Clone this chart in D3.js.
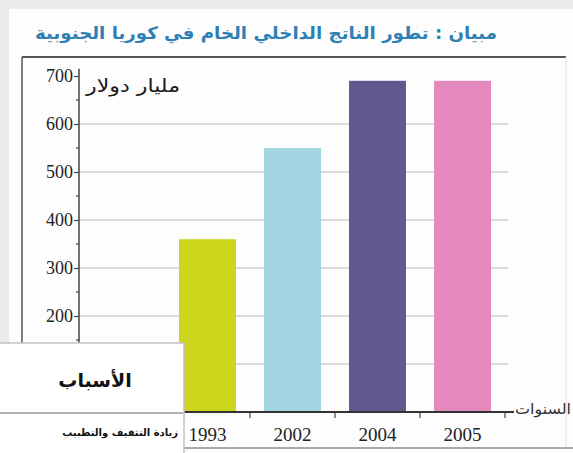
<!DOCTYPE html>
<html>
<head>
<meta charset="utf-8">
<script src="https://cdn.jsdelivr.net/npm/d3@7"></script>
<style>
  html, body { margin: 0; padding: 0; background: #fff; }
  svg { display: block; }
</style>
</head>
<body>
<svg id="chart" width="573" height="453"></svg>
<script>
// GDP of South Korea, billions of dollars
const years = ["1993", "2002", "2004", "2005"];
const gdp = [360, 550, 690, 690];
const barColors = ["#cbd61c", "#a3d6e3", "#62578f", "#e389bd"];
const yTicks = [200, 300, 400, 500, 600, 700];

const titleText = "مبيان : تطور الناتج الداخلي الخام في كوريا الجنوبية";
const yLabel = "مليار دولار";
const xLabel = "السنوات";
const boxHeader = "الأسباب";
const boxLine = "زيادة التثقيف والتطبيب";

const svg = d3.select("#chart");
const W = 573, H = 453;

// page background with a light grey margin
svg.append("rect").attr("width", W).attr("height", H).attr("fill", "#ebebeb");
svg.append("rect").attr("x", 9).attr("y", 9).attr("width", W - 9).attr("height", H - 9).attr("fill", "#fdfdfd");

// title
svg.append("text")
  .attr("x", 35).attr("y", 39)
  .attr("textLength", 462).attr("lengthAdjust", "spacingAndGlyphs")
  .attr("direction", "rtl")
  .attr("text-anchor", "end")
  .attr("font-family", "DejaVu Sans")
  .attr("font-weight", "bold")
  .attr("font-size", 17)
  .attr("fill", "#2f80b4")
  .text(titleText);

// chart frame
svg.append("line").attr("x1", 22).attr("x2", 566).attr("y1", 57).attr("y2", 57)
  .attr("stroke", "#555").attr("stroke-width", 2);
svg.append("line").attr("x1", 22).attr("x2", 22).attr("y1", 57).attr("y2", H)
  .attr("stroke", "#555").attr("stroke-width", 1.5);
svg.append("line").attr("x1", 566).attr("x2", 566).attr("y1", 57).attr("y2", 448)
  .attr("stroke", "#ddd").attr("stroke-width", 1);
svg.append("line").attr("x1", 22).attr("x2", W).attr("y1", 448).attr("y2", 448)
  .attr("stroke", "#aaa").attr("stroke-width", 2);

// scales
const x = d3.scaleBand().domain(years).range([165, 505]).paddingInner(0).paddingOuter(0);
const y = d3.scaleLinear().domain([0, 700]).range([412, 76]);
const axisX = 79;

// gridlines
svg.append("g").selectAll("line")
  .data(y.ticks(7).filter(v => v > 0 && v < 700))
  .join("line")
  .attr("x1", axisX).attr("x2", 508)
  .attr("y1", d => y(d)).attr("y2", d => y(d))
  .attr("stroke", "#cfcfcf").attr("stroke-width", 1.5);

// bars
const barW = x.bandwidth() * 0.67;
svg.append("g").selectAll("rect")
  .data(years)
  .join("rect")
  .attr("x", d => x(d) + (x.bandwidth() - barW) / 2)
  .attr("width", barW)
  .attr("y", (d, i) => y(gdp[i]))
  .attr("height", (d, i) => y(0) - y(gdp[i]))
  .attr("fill", (d, i) => barColors[i]);

// y axis
const yAxis = d3.axisLeft(y).tickValues(yTicks).tickSize(5).tickFormat(d3.format("d"));
const gy = svg.append("g").attr("transform", `translate(${axisX},0)`).call(yAxis);
gy.select(".domain").attr("d", `M0,${y(0)}V${y(715)}`).attr("stroke", "#444").attr("stroke-width", 1.5);
gy.selectAll(".tick line").attr("stroke", "#444").attr("stroke-width", 1.2);
gy.selectAll(".tick text")
  .attr("x", -6)
  .attr("font-family", "Liberation Serif")
  .attr("font-size", 18)
  .attr("fill", "#222");
// minor ticks
gy.append("g").selectAll("line")
  .data(d3.range(50, 700, 100))
  .join("line")
  .attr("x1", -3).attr("x2", 0)
  .attr("y1", d => y(d)).attr("y2", d => y(d))
  .attr("stroke", "#444").attr("stroke-width", 1.2);

// y axis unit
svg.append("text")
  .attr("x", 180).attr("y", 92)
  .attr("direction", "rtl")
  .attr("text-anchor", "start")
  .attr("textLength", 94).attr("lengthAdjust", "spacingAndGlyphs")
  .attr("font-family", "DejaVu Sans")
  .attr("font-size", 18)
  .attr("fill", "#1a1a1a")
  .text(yLabel);

// x axis
const gx = svg.append("g").attr("transform", `translate(0,${y(0)})`);
gx.append("line").attr("x1", axisX).attr("x2", 514).attr("y1", 0).attr("y2", 0)
  .attr("stroke", "#333").attr("stroke-width", 2);
gx.selectAll("line.tk")
  .data(years)
  .join("line").attr("class", "tk")
  .attr("x1", d => x(d) + x.bandwidth()).attr("x2", d => x(d) + x.bandwidth())
  .attr("y1", 0).attr("y2", 6)
  .attr("stroke", "#444").attr("stroke-width", 1.2);
gx.selectAll("text.lbl")
  .data(years)
  .join("text").attr("class", "lbl")
  .attr("x", d => x(d) + x.bandwidth() / 2)
  .attr("y", 29)
  .attr("text-anchor", "middle")
  .attr("font-family", "Liberation Serif")
  .attr("font-size", 19)
  .attr("fill", "#222")
  .text(d => d);

svg.append("text")
  .attr("x", 571).attr("y", 414)
  .attr("direction", "rtl")
  .attr("text-anchor", "start")
  .attr("textLength", 56).attr("lengthAdjust", "spacingAndGlyphs")
  .attr("font-family", "DejaVu Sans")
  .attr("font-size", 15)
  .attr("fill", "#333")
  .text(xLabel);

// reasons box
const box = svg.append("g");
box.append("rect").attr("x", -2).attr("y", 343).attr("width", 186).attr("height", 120)
  .attr("fill", "#fff").attr("stroke", "#c4c4c4").attr("stroke-width", 1.5);
box.append("line").attr("x1", 0).attr("x2", 183).attr("y1", 413).attr("y2", 413)
  .attr("stroke", "#999").attr("stroke-width", 1.5);
box.append("text")
  .attr("x", 95).attr("y", 387)
  .attr("text-anchor", "middle")
  .attr("font-family", "DejaVu Sans")
  .attr("font-weight", "bold")
  .attr("font-size", 19)
  .attr("fill", "#111")
  .text(boxHeader);
box.append("text")
  .attr("x", 178).attr("y", 436)
  .attr("direction", "rtl")
  .attr("text-anchor", "start")
  .attr("font-family", "DejaVu Sans")
  .attr("font-weight", "bold")
  .attr("font-size", 10)
  .attr("fill", "#111")
  .text(boxLine);
</script>
</body>
</html>
